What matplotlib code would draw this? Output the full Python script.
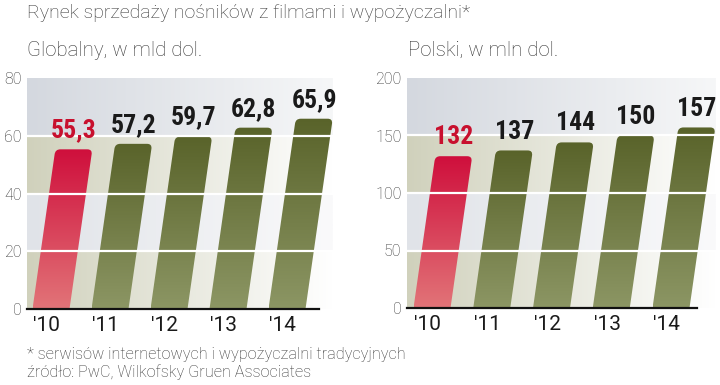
import numpy as np
import matplotlib
matplotlib.use('Agg')
import matplotlib.pyplot as plt
from matplotlib.path import Path
from matplotlib.patches import PathPatch
from matplotlib.colors import LinearSegmentedColormap

# ---- dane ----
years = ["'10", "'11", "'12", "'13", "'14"]
global_vals = [55.3, 57.2, 59.7, 62.8, 65.9]
global_labels = ['55,3', '57,2', '59,7', '62,8', '65,9']
poland_vals = [132, 137, 144, 150, 157]
poland_labels = ['132', '137', '144', '150', '157']
global_ticks = [0, 20, 40, 60, 80]
poland_ticks = [0, 50, 100, 150, 200]

title = 'Rynek sprzedaży nośników z filmami i wypożyczalni*'
sub_global = 'Globalny, w mld dol.'
sub_poland = 'Polski, w mln dol.'
footnote = '* serwisów internetowych i wypożyczalni tradycyjnych'
source = 'źródło: PwC, Wilkofsky Gruen Associates'

LIGHT = ['Roboto', 'DejaVu Sans']
NARROW = ['Liberation Sans Narrow', 'Roboto Condensed', 'DejaVu Sans']

W, H = 720, 385
fig = plt.figure(figsize=(7.2, 3.85), dpi=100)
fig.patch.set_facecolor('white')

red_cmap = LinearSegmentedColormap.from_list('r', ['#e27478', '#cf0f3c'])
green_cmap = LinearSegmentedColormap.from_list('g', ['#8c9664', '#59632a'])
beige_cmap = LinearSegmentedColormap.from_list('b', ['#d0d1bc', '#ffffff'])
gray_cmap = LinearSegmentedColormap.from_list('gr', ['#e0e3e8', '#fafafb'])
top_cmap = LinearSegmentedColormap.from_list('t', ['#d4d8df', '#f6f7f8'])


def panel(px_left, px_right, px_top, px_bottom, vals, labels, ticks,
          slot_px, bar_px, first_px, base_end_px):
    ax = fig.add_axes([px_left / W, 1 - px_bottom / H,
                       (px_right - px_left) / W, (px_bottom - px_top) / H])
    ymax = ticks[-1]
    x0 = -first_px / slot_px
    x1 = x0 + (px_right - px_left) / slot_px
    ppx = slot_px                      # px na jednostkę x
    ppy = (px_bottom - px_top) / ymax  # px na jednostkę y
    k = 0.143 * ppy / ppx              # skos słupka
    w = bar_px / ppx
    rx, ry = 5 / ppx, 5 / ppy

    # tło w pasach
    for j in range(len(ticks) - 1):
        if j == len(ticks) - 2:
            cm = top_cmap
        elif j % 2 == 0:
            cm = beige_cmap
        else:
            cm = gray_cmap
        ax.imshow(np.linspace(0, 1, 256).reshape(1, -1), cmap=cm,
                  extent=[x0, x1, ticks[j], ticks[j + 1]],
                  aspect='auto', zorder=0)

    for i, (v, lab) in enumerate(zip(vals, labels)):
        bl = i - w / 2
        br = i + w / 2
        trx = br + k * v
        tlx = bl + k * v
        verts = [(bl, 0), (br, 0), (trx - k * ry, v - ry), (trx, v),
                 (trx - rx, v), (tlx + rx, v), (tlx, v),
                 (tlx - k * ry, v - ry), (bl, 0)]
        codes = [Path.MOVETO, Path.LINETO, Path.LINETO, Path.CURVE3,
                 Path.CURVE3, Path.LINETO, Path.CURVE3, Path.CURVE3,
                 Path.CLOSEPOLY]
        patch = PathPatch(Path(verts, codes), facecolor='none',
                          edgecolor='none', zorder=2)
        ax.add_patch(patch)
        im = ax.imshow(np.linspace(0, 1, 256).reshape(-1, 1),
                       cmap=red_cmap if i == 0 else green_cmap,
                       extent=[bl, trx, 0, v], origin='lower',
                       aspect='auto', zorder=2)
        im.set_clip_path(patch)
        ax.annotate(lab, xy=(i + k * v, v), xytext=(0, 5),
                    textcoords='offset points', ha='center', va='bottom',
                    fontsize=18.5, fontweight='bold', family=NARROW,
                    color='#c8102e' if i == 0 else '#1a1a1a', zorder=5)
        ax.annotate(years[i], xy=(i - 0.07, 0), xytext=(0, -5),
                    textcoords='offset points', ha='center', va='top',
                    fontsize=15, family=LIGHT, color='#1a1a1a')

    for t in ticks[1:-1]:
        ax.axhline(t, color='white', lw=1.6, zorder=3)
    ax.axhline(0, xmax=(base_end_px - px_left) / (px_right - px_left),
               color='#111111', lw=1.6, zorder=4, clip_on=False)

    ax.set_xticks([])
    ax.set_yticks(ticks)
    ax.set_yticklabels([str(t) for t in ticks], family=LIGHT,
                       fontsize=11.5, color='#333333', fontweight='light')
    ax.tick_params(axis='y', length=0, pad=4)
    for s in ax.spines.values():
        s.set_visible(False)
    ax.set_ylim(0, ymax)
    ax.set_xlim(x0, x1)
    return ax


panel(27, 333, 78, 309, global_vals, global_labels, global_ticks,
      59.0, 37, 24, 319)
panel(407, 716, 78, 308, poland_vals, poland_labels, poland_ticks,
      59.75, 37, 25, 697)

txt = dict(family=LIGHT, fontweight='light', color='#333333',
           va='center', ha='left')
fig.text(27 / W, 1 - 13 / H, title, fontsize=14, **txt)
fig.text(27 / W, 1 - 50 / H, sub_global, fontsize=14.7, **txt)
fig.text(408 / W, 1 - 50 / H, sub_poland, fontsize=14.7, **txt)
fig.text(27 / W, 1 - 354 / H, footnote, fontsize=11.7, **txt)
fig.text(27 / W, 1 - 372 / H, source, fontsize=11.7, **txt)

fig.savefig('out.png', dpi=100)
